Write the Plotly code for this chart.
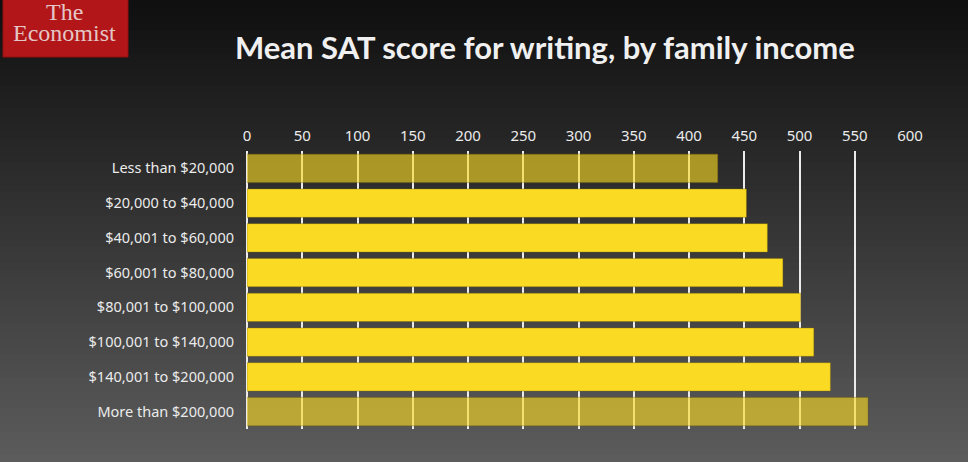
import plotly.graph_objects as go

# dati
income_bands = ["Less than $20,000", "$20,000 to $40,000", "$40,001 to $60,000",
                "$60,001 to $80,000", "$80,001 to $100,000", "$100,001 to $140,000",
                "$140,001 to $200,000", "More than $200,000"]
writing_score = [426, 452, 471, 485, 501, 513, 528, 562]
highlight = [False, True, True, True, True, True, True, False]
tick_vals = [0, 50, 100, 150, 200, 250, 300, 350, 400, 450, 500, 550, 600]

W, H = 968, 462
L, R, T, B = 247, 58, 151, 33
pw, ph = W - L - R, H - T - B

def px2x(px):
    return (px - L) / pw

def px2y(py):
    return (H - B - py) / ph

bar_colors = ["rgb(250,218,34)" if h else "rgba(250,218,34,0.62)" for h in highlight]

fig = go.Figure()
fig.add_trace(go.Bar(
    x=writing_score,
    y=income_bands,
    orientation="h",
    marker=dict(color=bar_colors, line=dict(color="rgba(120,100,10,0.5)", width=0.8)),
    hoverinfo="x+y",
))

# sfondo sfumato (strisce orizzontali)
shapes = []
n = 60
for i in range(n):
    t = i / (n - 1)
    c = int(16 + (92 - 16) * t)
    y0 = H * i / n
    y1 = H * (i + 1) / n + 1
    shapes.append(dict(type="rect", xref="paper", yref="paper",
                       x0=px2x(0), x1=px2x(W), y0=px2y(y1), y1=px2y(y0),
                       fillcolor=f"rgb({c},{c},{c})", line_width=0, layer="below"))

# logo
shapes.append(dict(type="rect", xref="paper", yref="paper",
                   x0=px2x(3), x1=px2x(128), y0=px2y(57), y1=px2y(-2),
                   fillcolor="rgb(178,22,24)", line=dict(color="rgb(150,15,15)", width=1),
                   layer="above"))

logo_font = dict(family="Liberation Serif", size=24, color="rgb(228,198,198)")
annotations = [
    dict(text="The", x=px2x(65), y=px2y(12), xref="paper", yref="paper",
         xanchor="center", yanchor="middle", showarrow=False, font=logo_font),
    dict(text="Economist", x=px2x(65), y=px2y(33), xref="paper", yref="paper",
         xanchor="center", yanchor="middle", showarrow=False, font=logo_font),
    dict(text="Mean SAT score for writing, by family income", x=px2x(545), y=px2y(47),
         xref="paper", yref="paper", xanchor="center", yanchor="middle", showarrow=False,
         font=dict(family="Lato", size=31, color="rgb(240,240,240)", weight=700)),
]

fig.update_layout(
    width=W, height=H,
    margin=dict(l=L, r=R, t=T, b=B, pad=0),
    paper_bgcolor="rgb(30,30,30)",
    plot_bgcolor="rgba(0,0,0,0)",
    showlegend=False,
    bargap=0.18,
    shapes=shapes,
    annotations=annotations,
    font=dict(family="Noto Sans", color="rgb(235,235,235)"),
    xaxis=dict(
        side="top", range=[0, 600], tickvals=tick_vals,
        showgrid=True, gridcolor="rgb(235,235,235)", gridwidth=1.5,
        zeroline=True, zerolinecolor="rgb(235,235,235)", zerolinewidth=1.5,
        showline=False, ticks="",
        tickfont=dict(size=15, color="rgb(235,235,235)"),
        ticklabelstandoff=6,
    ),
    yaxis=dict(
        autorange="reversed", showgrid=False, zeroline=False, ticks="",
        tickfont=dict(size=14.5, color="rgb(235,235,235)"),
        ticklabelstandoff=12,
    ),
)

fig.write_html("out.html", config={"displayModeBar": False},
               post_script="document.body.style.margin='0';")
